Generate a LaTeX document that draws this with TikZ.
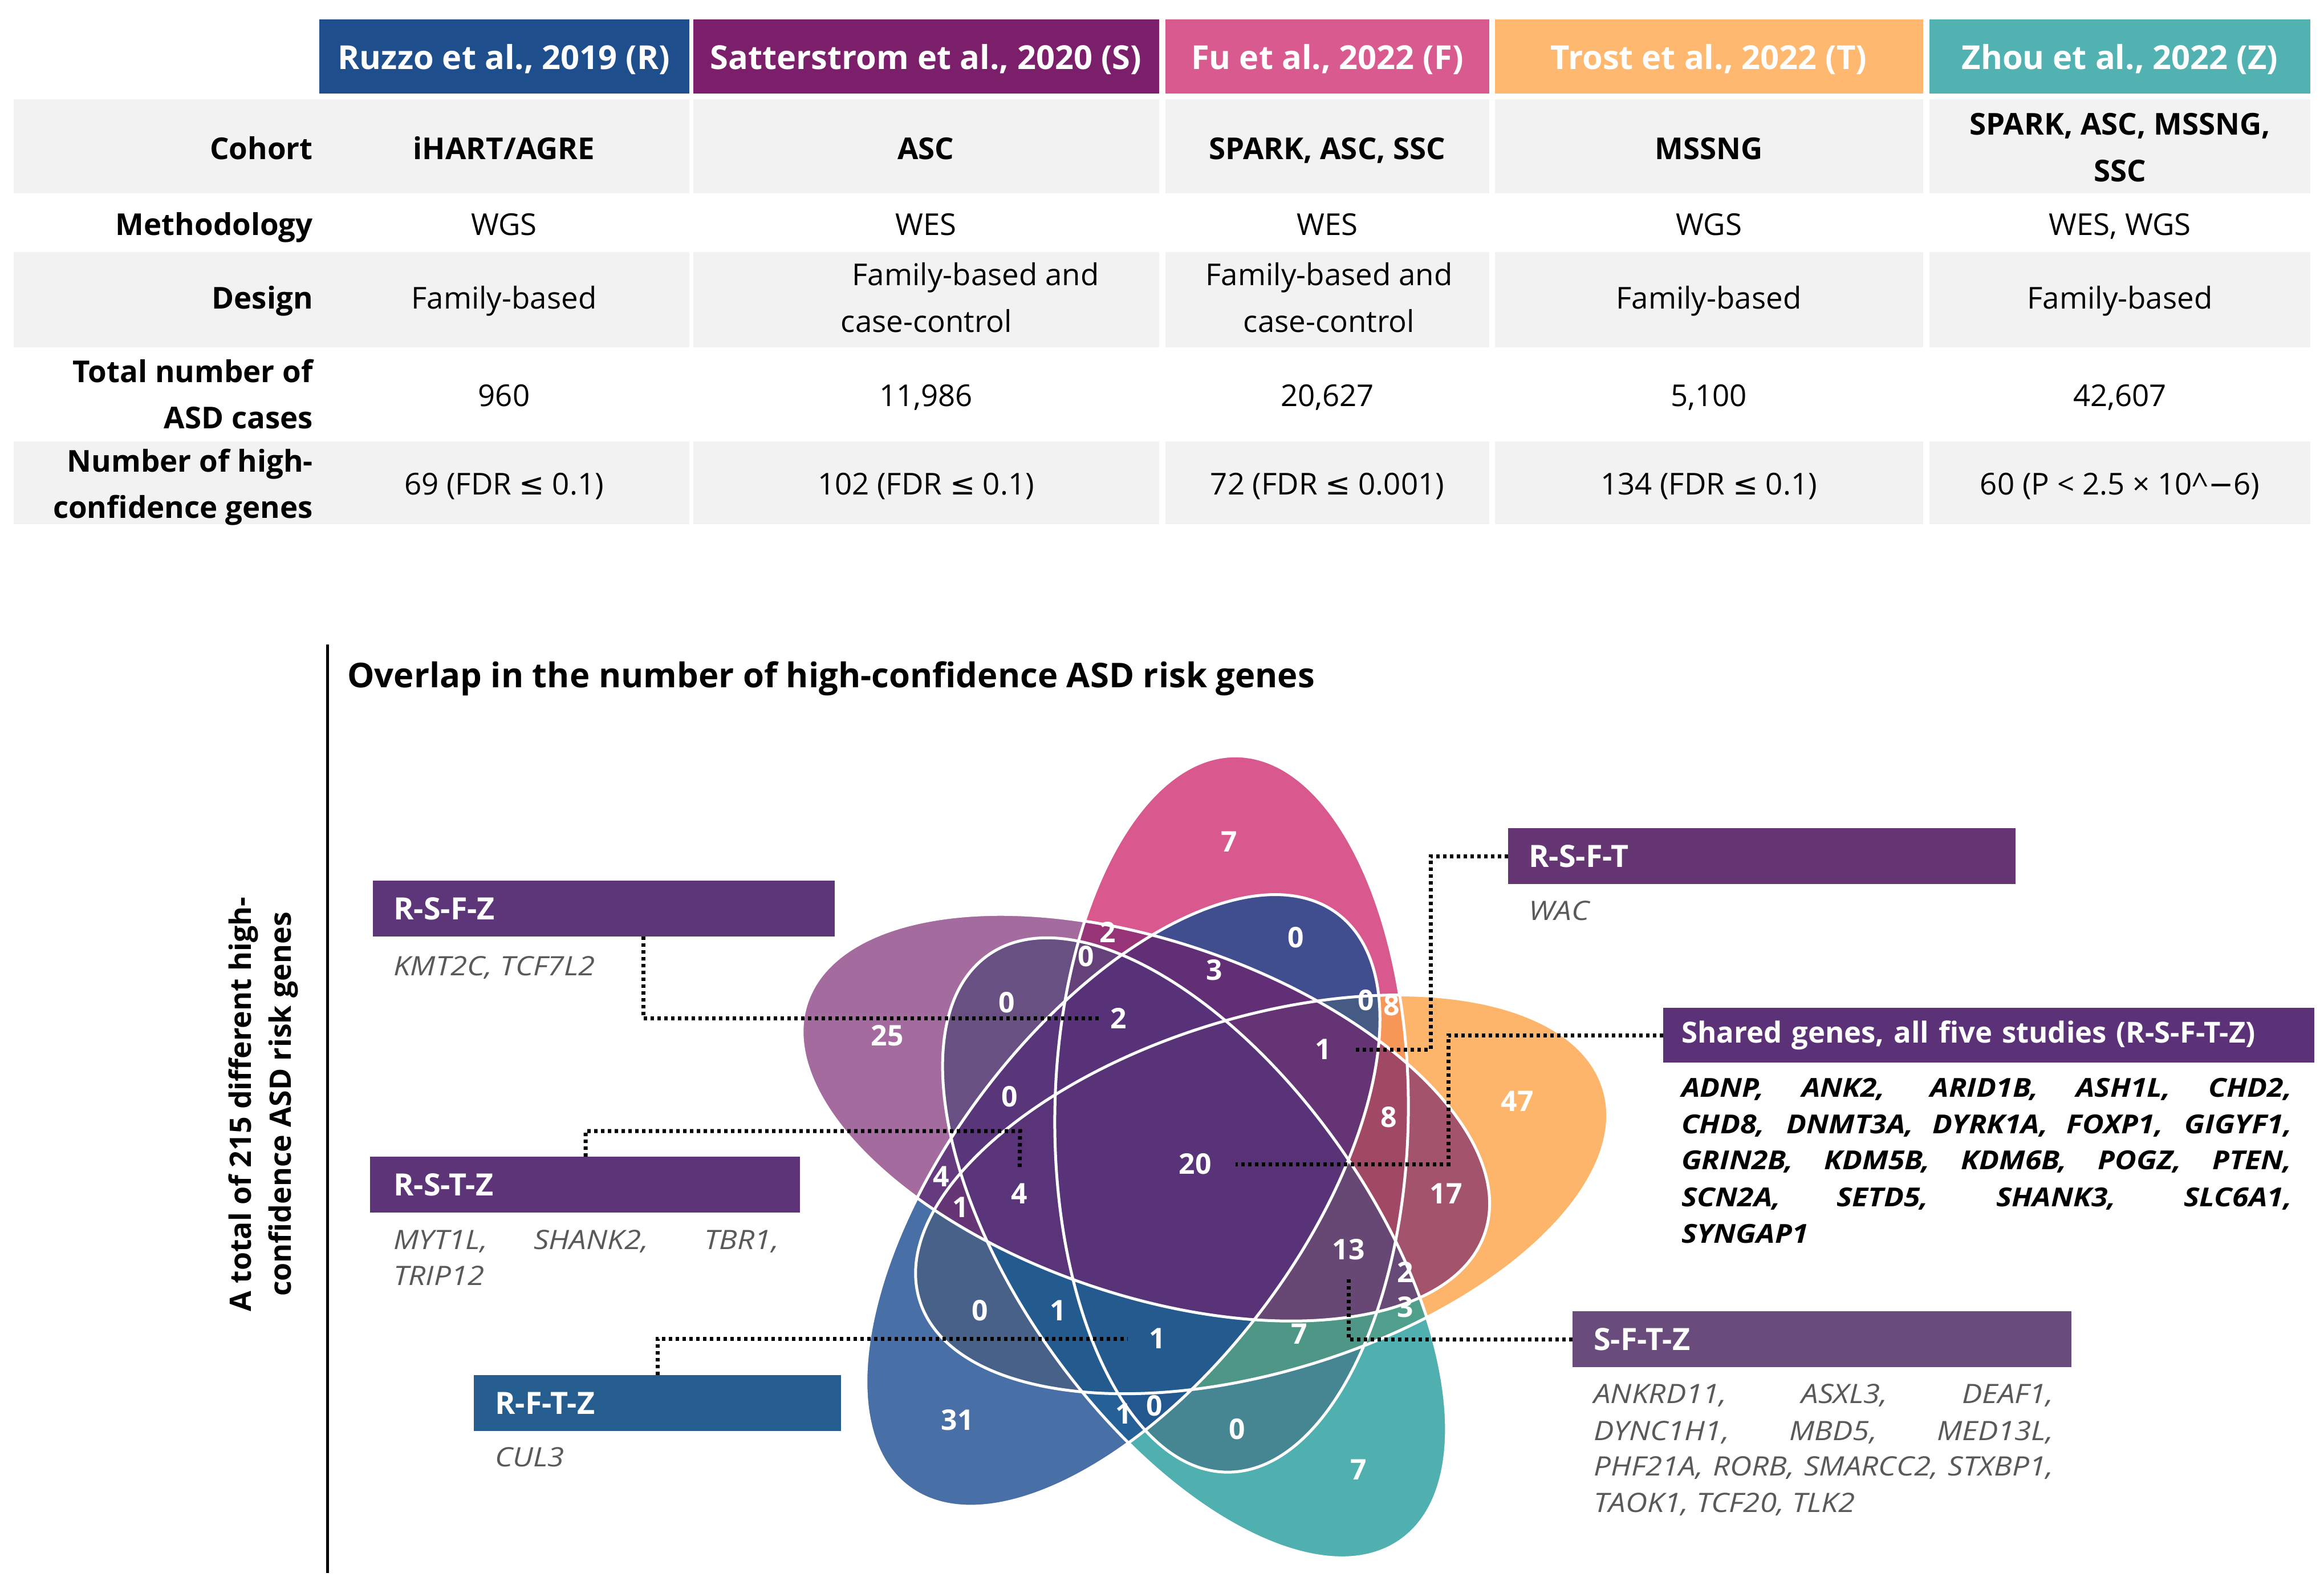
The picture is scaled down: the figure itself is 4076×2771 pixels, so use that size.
\documentclass[tikz,border=0pt]{standalone}
\usepackage{fontspec}
\setmainfont{Open Sans}
\newfontfamily\genefont{Open Sans}[FakeStretch=1.13]
\newfontfamily\symf{DejaVu Sans}
\usetikzlibrary{calc}
\definecolor{hdrR}{HTML}{1F4E8C}
\definecolor{hdrS}{HTML}{7B1F6A}
\definecolor{hdrF}{HTML}{D95A8F}
\definecolor{hdrT}{HTML}{FFB870}
\definecolor{hdrZ}{HTML}{52B1B1}
\definecolor{band}{HTML}{F2F2F2}
\definecolor{vF}{HTML}{D9588E}
\definecolor{vT}{HTML}{FDA54C}
\definecolor{vZ}{HTML}{169696}
\definecolor{vR}{HTML}{1A4C90}
\definecolor{vS}{HTML}{75206C}
\definecolor{genegray}{HTML}{595959}
\definecolor{bxRSFZ}{HTML}{5D3579}
\definecolor{bxRSTZ}{HTML}{5E3479}
\definecolor{bxRFTZ}{HTML}{255D8F}
\definecolor{bxRSFT}{HTML}{663574}
\definecolor{bxAll}{HTML}{5B3278}
\definecolor{bxSFTZ}{HTML}{694C7C}
\newcommand\myleq{{\symf ≤}}
\begin{document}
\begin{tikzpicture}[x=1bp,y=-1bp,
  hdr/.style={font=\fontsize{58}{68}\selectfont\bfseries, text=white, anchor=base, inner sep=0pt},
  lab/.style={font=\fontsize{53}{64}\selectfont\bfseries, anchor=base east, inner sep=0pt},
  cellb/.style={font=\fontsize{53}{64}\selectfont\bfseries, anchor=base, inner sep=0pt},
  cell/.style={font=\fontsize{53}{64}\selectfont, anchor=base, inner sep=0pt},
  num/.style={font=\fontsize{50}{58}\selectfont\bfseries, text=white, inner sep=2bp},
  lbox/.style={anchor=north west, minimum height=98bp, text=white, font=\fontsize{54}{60}\selectfont\bfseries, align=left, inner xsep=36bp, inner ysep=0pt},
  gene/.style={font=\fontsize{47}{64}\genefont\itshape, text=genegray, anchor=base west, inner sep=0pt},
  sgene/.style={font=\fontsize{46}{64}\genefont\bfseries\itshape, text=black, anchor=base west, inner sep=0pt},
  conn/.style={line width=7bp, dash pattern=on 6bp off 6bp},
  petal/.style={line width=5bp, draw=white}
]
\useasboundingbox (0,0) rectangle (4076,2771);

% ---------- table ----------
\foreach \ya/\yb in {174/339, 442/609, 774/919}{
  \foreach \xa/\xb in {24/1209, 1216/2033, 2044/2612, 2622/3373, 3384/4052}{
    \fill[band] (\xa,\ya) rectangle (\xb,\yb);
  }
}
\fill[hdrR] (560,34) rectangle (1209,164);
\fill[hdrS] (1216,34) rectangle (2033,164);
\fill[hdrF] (2044,34) rectangle (2612,164);
\fill[hdrT] (2622,34) rectangle (3373,164);
\fill[hdrZ] (3384,34) rectangle (4052,164);

\node[hdr] (tR) at (884,121) {Ruzzo et al., 2019 (R)};
\node[hdr] (tS) at (1624,121) {Satterstrom et al., 2020 (S)};
\node[hdr] (tF) at (2328,121) {Fu et al., 2022 (F)};
\node[hdr] (tT) at (2997,121) {Trost et al., 2022 (T)};
\node[hdr] (tZ) at (3718,121) {Zhou et al., 2022 (Z)};

\node[lab] (lCoh) at (549,279) {Cohort};
\node[lab] (lMet) at (549,412) {Methodology};
\node[lab] (lDes) at (549,541) {Design};
\node[lab] (lTot1) at (549,670) {Total number of};
\node[lab] (lTot2) at (549,751) {ASD cases};
\node[lab] (lNum1) at (549,827) {Number of high-};
\node[lab] (lNum2) at (549,908) {confidence genes};

\node[cellb] (c1R) at (884,279) {iHART/AGRE};
\node[cellb] (c1S) at (1624,279) {ASC};
\node[cellb] (c1F) at (2328,279) {SPARK, ASC, SSC};
\node[cellb] (c1T) at (2997,279) {MSSNG};
\node[cellb] (c1Za) at (3718,236) {SPARK, ASC, MSSNG,};
\node[cellb] (c1Zb) at (3718,318) {SSC};

\node[cell] (c2R) at (884,412) {WGS};
\node[cell] (c2S) at (1624,412) {WES};
\node[cell] (c2F) at (2328,412) {WES};
\node[cell] (c2T) at (2997,412) {WGS};
\node[cell] (c2Z) at (3718,412) {WES, WGS};

\node[cell] (c3R) at (884,541) {Family-based};
\node[cell] (c3Sa) at (1711,500) {Family-based and};
\node[cell] (c3Sb) at (1625,582) {case-control};
\node[cell] (c3Fa) at (2331,500) {Family-based and};
\node[cell] (c3Fb) at (2331,582) {case-control};
\node[cell] (c3T) at (2997,541) {Family-based};
\node[cell] (c3Z) at (3718,541) {Family-based};

\node[cell] (c4R) at (884,712) {960};
\node[cell] (c4S) at (1624,712) {11,986};
\node[cell] (c4F) at (2328,712) {20,627};
\node[cell] (c4T) at (2997,712) {5,100};
\node[cell] (c4Z) at (3718,712) {42,607};

\node[cell] (c5R) at (884,867) {69 (FDR \myleq{} 0.1)};
\node[cell] (c5S) at (1624,867) {102 (FDR \myleq{} 0.1)};
\node[cell] (c5F) at (2328,867) {72 (FDR \myleq{} 0.001)};
\node[cell] (c5T) at (2997,867) {134 (FDR \myleq{} 0.1)};
\node[cell] (c5Z) at (3718,867) {60 (P < 2.5 × 10\textasciicircum{\symf −}6)};

% ---------- left axis and title ----------
\draw[line width=5bp] (574,1130) -- (574,2758);
\node[font=\fontsize{60}{68}\selectfont\bfseries, anchor=base west, inner sep=0pt] (title) at (609,1205) {Overlap in the number of high-confidence ASD risk genes};
\node[font=\fontsize{52}{70}\selectfont\bfseries, rotate=90, align=center, inner sep=0pt] (ylab) at (462,1936) {A total of 215 different high-\\confidence ASD risk genes};

% ---------- Venn ----------
\fill[vF, rotate around={89.2:(2160.0,1953.2)}] (2160.0,1953.2) ellipse [x radius=628, y radius=310];
\fill[vT, fill opacity=0.82, rotate around={17.2:(2212.7,2094.1)}] (2212.7,2094.1) ellipse [x radius=628, y radius=310];
\fill[vZ, fill opacity=0.75, rotate around={-54.8:(2095.0,2187.8)}] (2095.0,2187.8) ellipse [x radius=628, y radius=310];
\fill[vR, fill opacity=0.80, rotate around={-126.8:(1969.5,2104.7)}] (1969.5,2104.7) ellipse [x radius=628, y radius=310];
\fill[vS, fill opacity=0.66, rotate around={161.2:(2009.7,1959.7)}] (2009.7,1959.7) ellipse [x radius=628, y radius=310];
\draw[petal, rotate around={89.2:(2160.0,1953.2)}] (2160.0,1953.2) ellipse [x radius=628, y radius=310];
\draw[petal, rotate around={17.2:(2212.7,2094.1)}] (2212.7,2094.1) ellipse [x radius=628, y radius=310];
\draw[petal, rotate around={-54.8:(2095.0,2187.8)}] (2095.0,2187.8) ellipse [x radius=628, y radius=310];
\draw[petal, rotate around={-126.8:(1969.5,2104.7)}] (1969.5,2104.7) ellipse [x radius=628, y radius=310];
\draw[petal, rotate around={161.2:(2009.7,1959.7)}] (2009.7,1959.7) ellipse [x radius=628, y radius=310];

\node[num] (n7F) at (2156,1476) {7};
\node[num] (n2a) at (1943,1634) {2};
\node[num] (n0a) at (1905,1677) {0};
\node[num] (n3a) at (2130,1701) {3};
\node[num] (n0b) at (2273,1644) {0};
\node[num] (n0c) at (2396,1754) {0};
\node[num] (n8a) at (2441,1763) {8};
\node[num] (n25) at (1556,1816) {25};
\node[num] (n0d) at (1766,1758) {0};
\node[num] (n2b) at (1962,1785) {2};
\node[num] (n1a) at (2321,1840) {1};
\node[num] (n47) at (2661,1931) {47};
\node[num] (n0e) at (1771,1923) {0};
\node[num] (n8b) at (2436,1959) {8};
\node[num] (n20) at (2096,2041) {20};
\node[num] (n4a) at (1651,2063) {4};
\node[num] (n4b) at (1788,2093) {4};
\node[num] (n17) at (2536,2093) {17};
\node[num] (n1b) at (1685,2117) {1};
\node[num] (n13) at (2365,2191) {13};
\node[num] (n2c) at (2465,2230) {2};
\node[num] (n3b) at (2465,2292) {3};
\node[num] (n0f) at (1719,2298) {0};
\node[num] (n1c) at (1856,2298) {1};
\node[num] (n1d) at (2030,2347) {1};
\node[num] (n7b) at (2279,2339) {7};
\node[num] (n31) at (1679,2490) {31};
\node[num] (n1e) at (1971,2479) {1};
\node[num] (n0g) at (2025,2465) {0};
\node[num] (n0h) at (2170,2506) {0};
\node[num] (n7Z) at (2383,2577) {7};

% ---------- label boxes ----------
\node[lbox, fill=bxRSFZ, text width=738bp] (bRSFZ) at (654,1544) {R-S-F-Z};
\node[lbox, fill=bxRSTZ, text width=672bp, inner xsep=41bp] (bRSTZ) at (649,2028) {R-S-T-Z};
\node[lbox, fill=bxRFTZ, text width=570bp, inner xsep=37bp] (bRFTZ) at (831,2411) {R-F-T-Z};
\node[lbox, fill=bxRSFT, text width=818bp] (bRSFT) at (2645,1452) {R-S-F-T};
\node[lbox, fill=bxAll, text width=1078bp, inner xsep=32bp, minimum height=96bp, font=\fontsize{51}{58}\selectfont\bfseries] (bAll) at (2917,1767) {Shared genes, all five studies (R-S-F-T-Z)};
\node[lbox, fill=bxSFTZ, text width=801bp, inner xsep=37bp] (bSFTZ) at (2758,2299) {S-F-T-Z};

% ---------- gene lists ----------
\node[gene] (gRSFZ) at (690,1710) {KMT2C, TCF7L2};
\node[gene] (gRSTZ1) at (690,2190) {\makebox[676bp][s]{MYT1L, SHANK2, TBR1,}};
\node[gene] (gRSTZ2) at (690,2253) {TRIP12};
\node[gene] (gRFTZ) at (868,2571) {CUL3};
\node[gene] (gRSFT) at (2681,1613) {WAC};

\node[sgene] (gA1) at (2949,1923) {\makebox[1070bp][s]{ADNP, ANK2, ARID1B, ASH1L, CHD2,}};
\node[sgene] (gA2) at (2949,1987) {\makebox[1070bp][s]{CHD8, DNMT3A, DYRK1A, FOXP1, GIGYF1,}};
\node[sgene] (gA3) at (2949,2050) {\makebox[1070bp][s]{GRIN2B, KDM5B, KDM6B, POGZ, PTEN,}};
\node[sgene] (gA4) at (2949,2115) {\makebox[1070bp][s]{SCN2A, SETD5, SHANK3, SLC6A1,}};
\node[sgene] (gA5) at (2949,2179) {SYNGAP1};

\node[gene] (gS1) at (2795,2460) {\makebox[806bp][s]{ANKRD11, ASXL3, DEAF1,}};
\node[gene] (gS2) at (2795,2525) {\makebox[806bp][s]{DYNC1H1, MBD5, MED13L,}};
\node[gene] (gS3) at (2795,2587) {\makebox[806bp][s]{PHF21A, RORB, SMARCC2, STXBP1,}};
\node[gene] (gS4) at (2795,2651) {TAOK1, TCF20, TLK2};

% ---------- connectors ----------
\coordinate (k1) at (1789,1983);
\coordinate (k2) at (2509,1840);
\coordinate (k3) at (2540,2041);
\draw[conn, shorten >=18bp] ([xshift=474bp]bRSFZ.south west) |- (n2b.west);
\draw[conn, shorten >=24bp] ([xshift=378bp]bRSTZ.north west) |- (k1) -- (n4b.north);
\draw[conn, shorten >=36bp] ([xshift=322bp]bRFTZ.north west) |- (n1d.west);
\draw[conn, shorten >=40bp] (bRSFT.west) -| (k2) -- (n1a.east);
\draw[conn, shorten >=40bp] (bAll.west) -| (k3) -- (n20.east);
\draw[conn, shorten >=29bp] (bSFTZ.west) -| (n13.south);
\end{tikzpicture}
\end{document}
